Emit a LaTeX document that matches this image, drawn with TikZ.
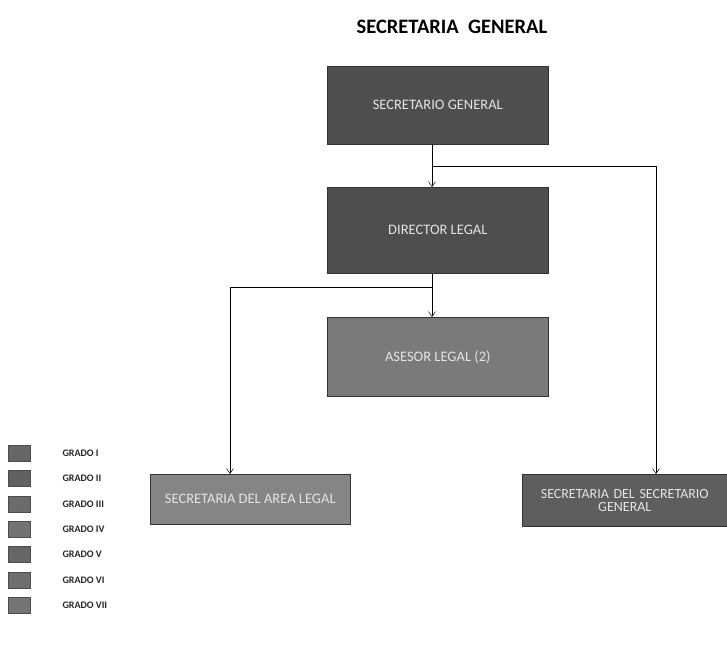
\documentclass[tikz,border=0pt]{standalone}
\usepackage{fontspec}
\setmainfont{Carlito}
\usetikzlibrary{arrows.meta}
\definecolor{boxdark}{HTML}{4E4E4E}
\definecolor{boxmid}{HTML}{5E5E5E}
\definecolor{boxlight}{HTML}{7A7A7A}
\definecolor{boxpale}{HTML}{858585}
\definecolor{boxtext}{HTML}{E4E4E4}
\tikzset{
  orgbox/.style={draw=black!80, line width=0.6pt, inner sep=2pt, align=center,
    text=boxtext, font=\fontsize{14.5}{15}\selectfont, anchor=north west},
  link/.style={draw=black, line width=0.8pt},
  arrowlink/.style={link, -{Straight Barb[length=5pt,width=7pt,line width=0.5pt]}},
  legsq/.style={draw=black!70, line width=0.4pt, minimum width=22pt, minimum height=16pt, inner sep=0pt},
  legtext/.style={font=\fontsize{10}{11}\selectfont\bfseries, anchor=west, text=black!85}
}
\begin{document}
\begin{tikzpicture}[x=1pt,y=-1pt]
\useasboundingbox (0,0) rectangle (727,648);

% title
\node[font=\fontsize{20.5}{22}\selectfont\bfseries] (title) at (452,27) {SECRETARIA\ \ GENERAL};

% boxes of the chart
\node[orgbox, fill=boxdark, minimum width=221pt, minimum height=78pt] (sg) at (327,66) {SECRETARIO GENERAL};
\node[orgbox, fill=boxdark, minimum width=221pt, minimum height=86pt] (dl) at (327,187) {DIRECTOR LEGAL};
\node[orgbox, fill=boxlight, minimum width=221pt, minimum height=79pt] (al) at (327,317) {ASESOR LEGAL (2)};
\node[orgbox, fill=boxpale, minimum width=200pt, minimum height=50pt] (sal) at (150,474) {\raisebox{-7pt}{SECRETARIA DEL AREA LEGAL}};
\node[orgbox, fill=boxmid, minimum width=205pt, minimum height=52pt, text width=198pt,
      font=\fontsize{14}{13}\selectfont] (ssg) at (522,474) {SECRETARIA DEL SECRETARIO\\GENERAL};

% branch points
\coordinate (j1) at (432,166);
\coordinate (j1r) at (656,166);
\coordinate (j2) at (432,287);
\coordinate (j2l) at (230,287);

% connectors
\draw[arrowlink] (sg.south -| j1) -- (dl.north -| j1);
\draw[link] (j1) -- (j1r);
\draw[arrowlink] (j1r) -- (ssg.north -| j1r);
\draw[arrowlink] (dl.south -| j2) -- (al.north -| j2);
\draw[link] (j2) -- (j2l);
\draw[arrowlink] (j2l) -- (sal.north -| j2l);

% legend
\foreach \k/\lab/\shade in {1/GRADO I/60, 2/GRADO II/62, 3/GRADO III/58, 4/GRADO IV/55, 5/GRADO V/60, 6/GRADO VI/57, 7/GRADO VII/54}{
  \node[legsq, fill=black!\shade] (sq\k) at (19,428+25.3*\k) {};
  \node[legtext] (lt\k) at (59,428+25.3*\k) {\lab};
}
\end{tikzpicture}
\end{document}
